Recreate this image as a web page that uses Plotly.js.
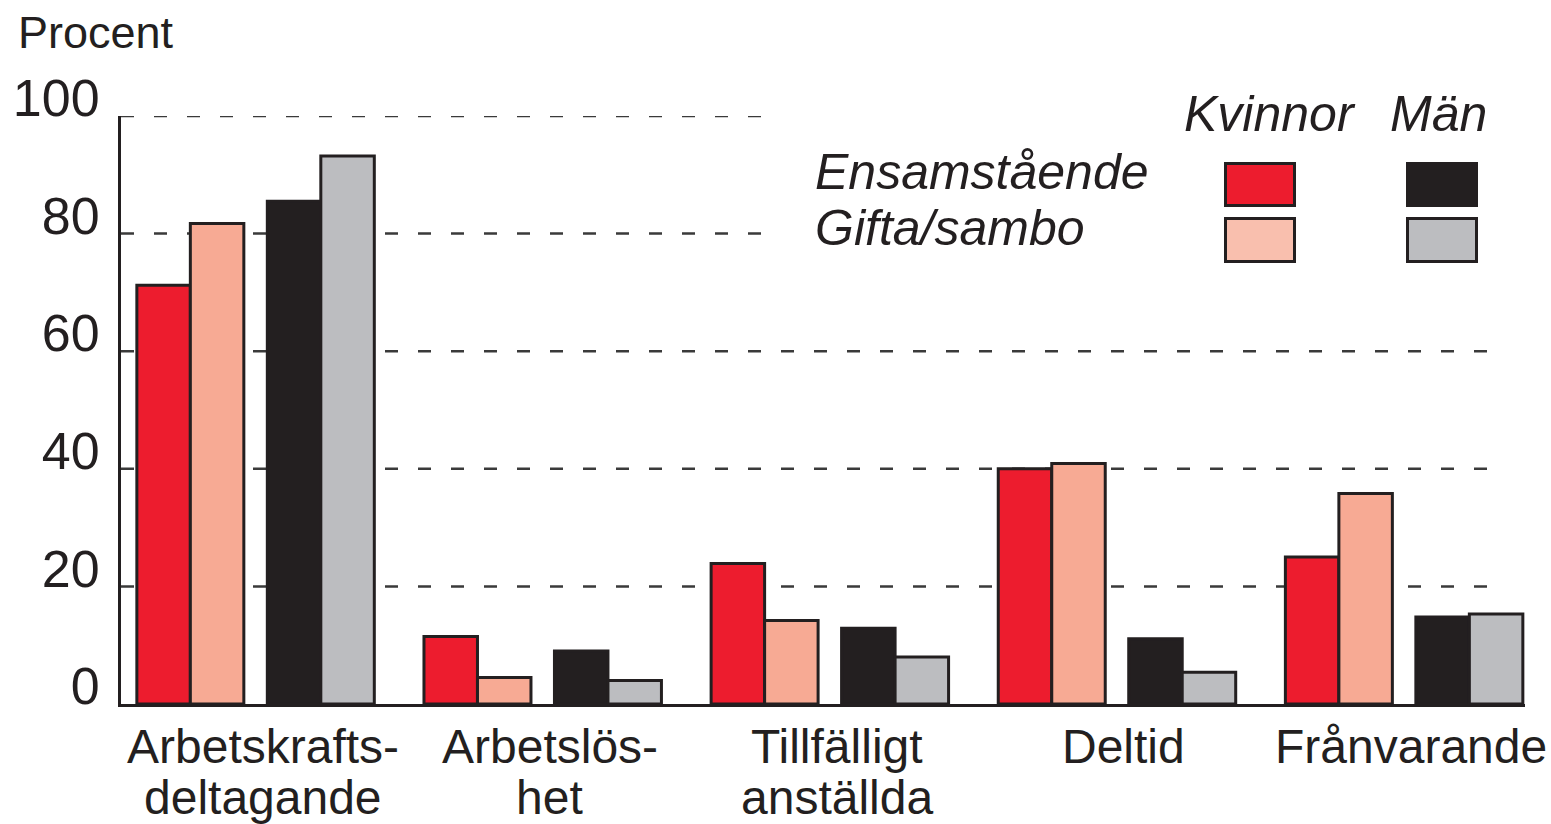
<!DOCTYPE html>
<html><head><meta charset="utf-8">
<script src="https://cdn.plot.ly/plotly-3.0.1.min.js"></script>
<style>html,body{margin:0;padding:0;background:#fff}#chart{width:1551px;height:824px}</style>
</head><body><div id="chart"></div>
<script>
// ---- data ----
const categories = ["Arbetskrafts-<br>deltagande", "Arbetslös-<br>het", "Tillfälligt<br>anställda", "Deltid", "Frånvarande"];
const kvinnorEnsam = [71.2, 11.5, 23.9, 40.0, 25.0];
const kvinnorGift  = [81.7, 4.5, 14.2, 40.9, 35.8];
const manEnsam     = [85.5, 9.0, 12.9, 11.1, 14.8];
const manGift      = [93.2, 4.0, 8.0, 5.4, 15.3];
const yTicks = [0, 20, 40, 60, 80, 100];
const yTitle = "Procent";
const legendCols = ["Kvinnor", "Män"];
const legendRows = ["Ensamstående", "Gifta/sambo"];

// ---- style ----
const W = 1551, H = 824;
const M = {l: 121, r: 26, t: 116, b: 120};
const pw = W - M.l - M.r, ph = H - M.t - M.b;
const px2x = px => (px - M.l) / pw;
const py2y = py => (H - M.b - py) / ph;
const FONT = "Liberation Sans, Arial, Helvetica, sans-serif";
const INK = "#231F20";
const colors = ["#ED1C2E", "#F7AA94", "#231F20", "#BCBDC0"];
const legendColors = ["#ED1C2E", "#F9BFAE", "#231F20", "#BCBDC0"];
const barW = 0.1863;
const offsets = [-0.4135, -0.2272, 0.0409, 0.2272];

const series = [kvinnorEnsam, kvinnorGift, manEnsam, manGift];
const names = ["Kvinnor – Ensamstående", "Kvinnor – Gifta/sambo", "Män – Ensamstående", "Män – Gifta/sambo"];

const traces = series.map((vals, i) => ({
  type: "bar",
  x: categories,
  y: vals,
  name: names[i],
  width: barW,
  offset: offsets[i],
  marker: {color: colors[i], line: {color: INK, width: 3}},
  hoverinfo: "y+name"
}));

const shapes = [];
yTicks.forEach(v => {
  if (v === 0) return;
  shapes.push({
    type: "line", layer: "below", xref: "paper", yref: "y",
    x0: 0, x1: v >= 80 ? px2x(770) : px2x(1505), y0: v, y1: v,
    line: {color: "#3a3a3a", width: 2.5, dash: "13px,20px"}
  });
});

// legend boxes
const boxX = [[1225.5, 1294.5], [1407.5, 1476.5]];
const boxY = [[163.5, 205.5], [218.5, 261.5]];
for (let c = 0; c < 2; c++) {
  for (let r = 0; r < 2; r++) {
    shapes.push({
      type: "rect", xref: "paper", yref: "paper",
      x0: px2x(boxX[c][0]), x1: px2x(boxX[c][1]),
      y0: py2y(boxY[r][1]), y1: py2y(boxY[r][0]),
      fillcolor: legendColors[c * 2 + r],
      line: {color: INK, width: 3}
    });
  }
}

const annotations = [];
annotations.push({
  text: yTitle, xref: "paper", yref: "paper", x: px2x(16), y: py2y(32),
  xanchor: "left", yanchor: "middle", showarrow: false,
  font: {family: FONT, size: 45, color: INK}
});
const colX = [1182, 1388];
legendCols.forEach((t, i) => annotations.push({
  text: t, xref: "paper", yref: "paper", x: px2x(colX[i]), y: py2y(114),
  xanchor: "left", yanchor: "middle", showarrow: false,
  font: {family: FONT, size: 50, color: INK, style: "italic"}
}));
const rowY = [172, 228];
legendRows.forEach((t, i) => annotations.push({
  text: t, xref: "paper", yref: "paper", x: px2x(813), y: py2y(rowY[i]),
  xanchor: "left", yanchor: "middle", showarrow: false,
  font: {family: FONT, size: 50, color: INK, style: "italic"}
}));
categories.forEach((c, i) => {
  c.split("<br>").forEach((line, j) => annotations.push({
    text: line, xref: "x", yref: "paper", x: i, xshift: 7,
    y: py2y(j === 0 ? 746 : 797), xanchor: "center", yanchor: "middle",
    showarrow: false, font: {family: FONT, size: 48, color: INK}
  }));
});

const layout = {
  width: W, height: H,
  margin: M,
  paper_bgcolor: "#fff", plot_bgcolor: "#fff",
  showlegend: false,
  barmode: "overlay",
  font: {family: FONT, color: INK},
  xaxis: {
    type: "category", range: [-0.4687, 4.421],
    showgrid: false, zeroline: false, showticklabels: false, ticks: "",
    showline: true, linecolor: INK, linewidth: 3, fixedrange: true
  },
  yaxis: {
    range: [0, 100], tickvals: yTicks, ticktext: yTicks.map(String),
    showgrid: false, zeroline: false, ticks: "",
    showline: true, linecolor: INK, linewidth: 3,
    tickfont: {family: FONT, size: 52, color: INK},
    ticklabelshift: -18, ticklabelstandoff: 8, fixedrange: true
  },
  shapes: shapes,
  annotations: annotations
};

Plotly.newPlot("chart", traces, layout, {displayModeBar: false, staticPlot: true});
</script>
</body></html>
